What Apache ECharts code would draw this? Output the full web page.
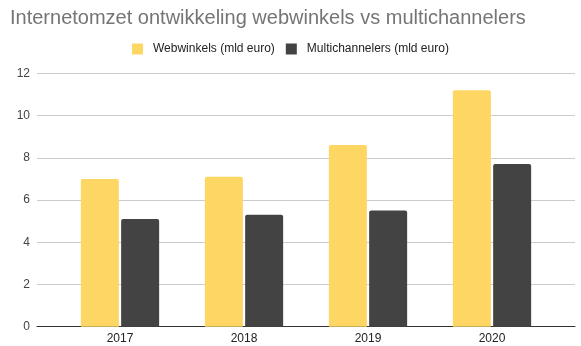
<!DOCTYPE html>
<html><head><meta charset="utf-8">
<script src="https://cdn.jsdelivr.net/npm/echarts@6/dist/echarts.min.js"></script>
<style>html,body{margin:0;padding:0;background:#fff}#c{width:581px;height:346px}</style>
</head><body><div id="c"></div>
<script>
const categories = ['2017', '2018', '2019', '2020'];
const webwinkels = [7.0, 7.1, 8.6, 11.2];
const multichannelers = [5.1, 5.3, 5.5, 7.7];
const seriesNames = ['Webwinkels (mld euro)', 'Multichannelers (mld euro)'];
const yTicks = { min: 0, max: 12, interval: 2 };

const font = 'Liberation Sans, Arial, sans-serif';
const chart = echarts.init(document.getElementById('c'), null, { renderer: 'canvas' });
chart.setOption({
  animation: false,
  backgroundColor: '#ffffff',
  title: {
    text: 'Internetomzet ontwikkeling webwinkels vs multichannelers',
    left: 10, top: 8, padding: 0,
    textStyle: { fontFamily: font, fontSize: 20, fontWeight: 'normal', color: '#757575' }
  },
  legend: {
    left: 132, top: 43, padding: 0,
    itemWidth: 11, itemHeight: 11, itemGap: 11,
    icon: 'rect',
    data: seriesNames,
    textStyle: { fontFamily: font, fontSize: 12, color: '#222222', padding: [0, 0, 0, 5] }
  },
  grid: [
    { left: 37, right: 6, top: 73.3, bottom: 19.3 },
    { left: 58, right: 27, top: 73.3, bottom: 19.3 }
  ],
  xAxis: [
    { gridIndex: 0, type: 'value', min: 0, max: 1, show: true,
      axisLine: { show: true, onZero: false, lineStyle: { color: '#333333', width: 1 } },
      axisTick: { show: false }, axisLabel: { show: false }, splitLine: { show: false } },
    { gridIndex: 1, type: 'category', data: categories,
      axisLine: { show: false }, axisTick: { show: false },
      axisLabel: { fontFamily: font, fontSize: 12, color: '#222222', margin: 6 } }
  ],
  yAxis: [
    { gridIndex: 0, type: 'value', min: yTicks.min, max: yTicks.max, interval: yTicks.interval,
      axisLine: { show: false }, axisTick: { show: false },
      axisLabel: { fontFamily: font, fontSize: 12, color: '#444444', margin: 7 },
      splitLine: { lineStyle: { color: '#cccccc', width: 1 } } },
    { gridIndex: 1, type: 'value', min: yTicks.min, max: yTicks.max, interval: yTicks.interval, show: false }
  ],
  series: [
    { name: seriesNames[0], type: 'bar', xAxisIndex: 1, yAxisIndex: 1, data: webwinkels,
      barWidth: 38, barGap: '6%', itemStyle: { color: '#fdd663', borderRadius: [2, 2, 0, 0] } },
    { name: seriesNames[1], type: 'bar', xAxisIndex: 1, yAxisIndex: 1, data: multichannelers,
      barWidth: 38, barGap: '6%', itemStyle: { color: '#434343', borderRadius: [2, 2, 0, 0] } }
  ]
});
</script></body></html>
